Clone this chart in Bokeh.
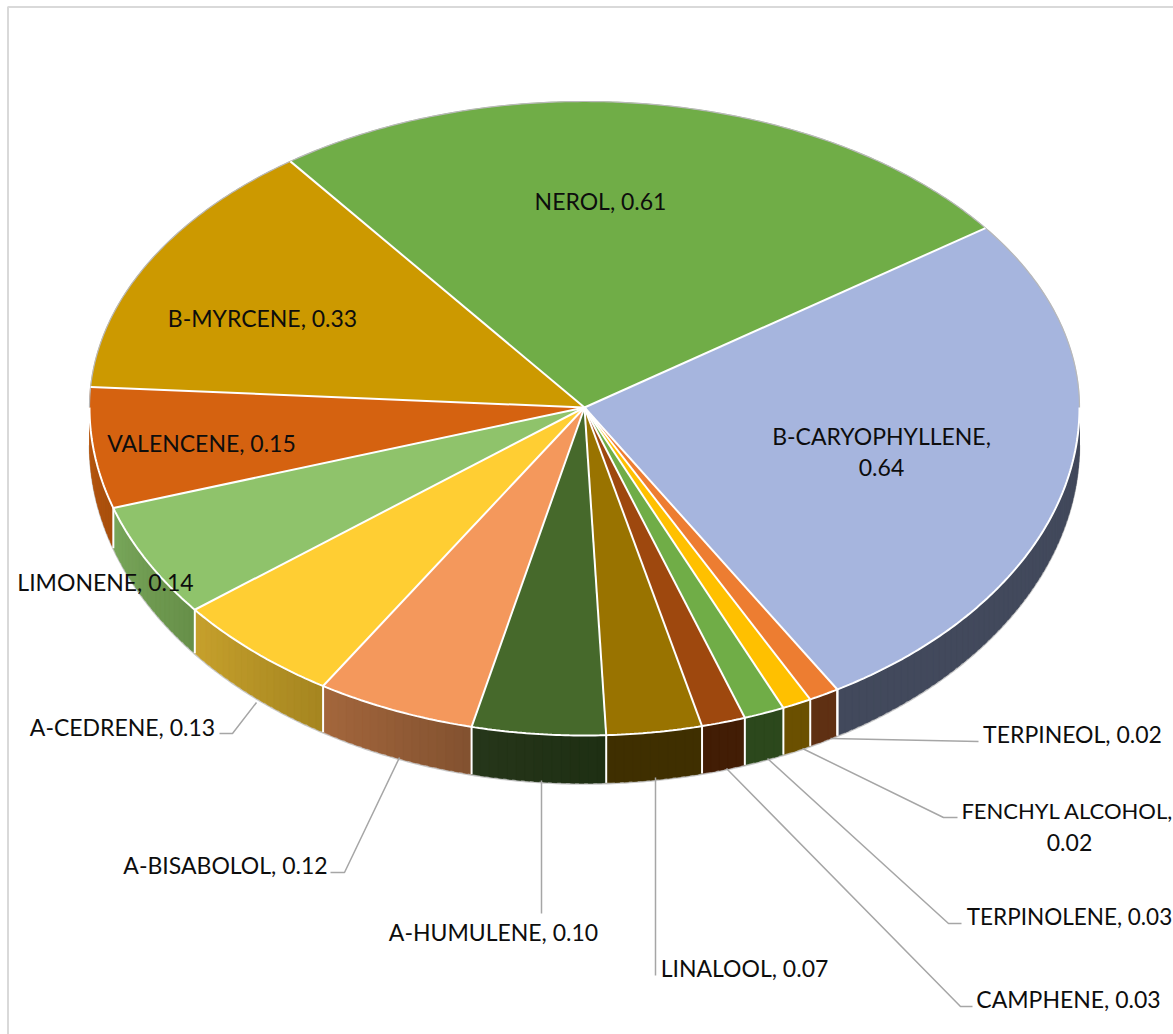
import numpy as np
from bokeh.plotting import figure
from bokeh.models import Range1d
from bokeh.core.properties import value
from bokeh.embed import file_html
from bokeh.resources import INLINE

names = ["B-CARYOPHYLLENE", "NEROL", "B-MYRCENE", "VALENCENE", "LIMONENE", "A-CEDRENE", "A-BISABOLOL",
         "A-HUMULENE", "LINALOOL", "CAMPHENE", "TERPINOLENE", "FENCHYL ALCOHOL", "TERPINEOL"]
# they round to the printed labels
values = [0.636, 0.6051, 0.332, 0.1451, 0.1351, 0.134, 0.1249, 0.1049, 0.075, 0.0345, 0.032, 0.023, 0.024]
top_colors = ["#A6B5DE", "#70AD47", "#CC9900", "#D56210", "#8FC36B", "#FFCE33", "#F4985C",
              "#46692B", "#997300", "#9E480E", "#70AD47", "#FFC000", "#ED7D31"]
side_left = ["#42495C", "#70AD47", "#CC9900", "#B85A12", "#78A65A", "#C6A02C", "#A3663C",
             "#26361A", "#3F2F00", "#421D05", "#2C481C", "#6B5000", "#5F3013"]
side_right = ["#42495C", "#70AD47", "#CC9900", "#A84E0C", "#679049", "#A68620", "#835230",
              "#1E2F13", "#3F2F00", "#421D05", "#2C481C", "#6B5000", "#5F3013"]

START_DEG = 35.9
CX, CY, RX, RY_UP, RY_DOWN = 584.0, 407.0, 495.0, 306.0, 328.0
BOT_OFFSET, BOT_EXTRA = 37.0, 10.7


def top_xy(t):
    s = np.sin(t)
    return CX + RX * np.cos(t), CY - np.where(s > 0, RY_UP, RY_DOWN) * s


def bot_xy(t):
    s = np.sin(t)
    return CX + RX * np.cos(t), CY + BOT_OFFSET - np.where(s > 0, RY_UP, RY_DOWN + BOT_EXTRA) * s


def hex2rgb(h):
    return np.array([int(h[i:i + 2], 16) for i in (1, 3, 5)], float)


def mix(a, b, f):
    c = hex2rgb(a) * (1 - f) + hex2rgb(b) * f
    return "#%02x%02x%02x" % tuple(int(round(v)) for v in c)


total = sum(values)
sweeps = np.radians(np.array(values) / total * 360.0)
start0 = np.radians(START_DEG)
bounds = np.concatenate([[start0 - sweeps[0]], start0 - sweeps[0] + np.cumsum(sweeps)])

p = figure(width=1173, height=1034, output_backend="svg", toolbar_location=None,
           x_range=Range1d(0, 1173), y_range=Range1d(1034, 0), min_border=0,
           x_axis_location=None, y_axis_location=None, background_fill_color="white",
           border_fill_color="white", outline_line_color=None)
p.grid.visible = False

# chart frame: only its top and left edges fall inside the page
p.line([7.5, 7.5, 1173], [1034, 6.5, 6.5], line_color="#D9D9D9", line_width=2)

# lower silhouette
lo = np.linspace(np.pi, 2 * np.pi, 360)
bx, by = bot_xy(lo)
p.line(bx, by + 0.8, line_color="#C8C8C8", line_width=1.6)

# side faces, drawn as fine strips for the shading across each face
xs, ys, cols = [], [], []
seams = []
for i in range(len(values)):
    a, b = bounds[i], bounds[i + 1]
    ranges = []
    for k in (0, 2):
        ra, rb = max(a, -np.pi + k * np.pi), min(b, 0 + k * np.pi)
        ranges.append((ra, rb))
    for ra, rb in ranges:
        if rb <= ra:
            continue
        n = max(2, int(np.degrees(rb - ra) / 1.0))
        edges = np.linspace(ra, rb, n + 1)
        for j in range(n):
            f = j / max(1, n - 1)
            e = np.linspace(edges[j], min(edges[j + 1] + 0.01, rb), 4)
            x1, y1 = top_xy(e)
            x2, y2 = bot_xy(e[::-1])
            xs.append(np.concatenate([x1, x2]))
            ys.append(np.concatenate([y1, y2]))
            cols.append(mix(side_left[i], side_right[i], f))
        seams.append(ra)
        seams.append(rb)
p.patches(xs, ys, fill_color=cols, line_color=cols, line_width=0.4)

for s in sorted(set(np.round(seams, 6))):
    if abs(np.sin(s)) < 1e-3:
        continue
    x1, y1 = top_xy(np.array([s]))
    x2, y2 = bot_xy(np.array([s]))
    p.line([x1[0], x2[0]], [y1[0], y2[0]], line_color="white", line_width=2)

# top faces
for i in range(len(values)):
    e = np.linspace(bounds[i], bounds[i + 1], max(4, int(np.degrees(sweeps[i]) * 2)))
    x, y = top_xy(e)
    p.patch(np.concatenate([[CX], x]), np.concatenate([[CY], y]),
            fill_color=top_colors[i], line_color=top_colors[i], line_width=0.5)

# grey rim on the back half, white rim along the front, white radial seams
up = np.linspace(0, np.pi, 360)
ux, uy = top_xy(up)
p.line(ux, uy, line_color="#B8B8B8", line_width=1.2)
ux, uy = top_xy(lo)
p.line(ux, uy, line_color="white", line_width=2)
for b in bounds[:-1]:
    x, y = top_xy(np.array([b]))
    p.line([CX, x[0]], [CY, y[0]], line_color="white", line_width=2)

# leader lines
leaders = [
    ([830, 978], [738, 741]),
    ([802, 943, 957], [748, 817, 817]),
    ([767, 948, 961], [758, 923, 923]),
    ([726, 960, 972], [768, 1006, 1006]),
    ([655, 655], [777, 975]),
    ([541, 541], [780, 913]),
    ([399, 344, 330], [757, 872, 872]),
    ([256, 232, 219], [702, 733, 733]),
]
for lx, ly in leaders:
    p.line(lx, ly, line_color="#A6A6A6", line_width=1.5)

label_pos = {
    "B-CARYOPHYLLENE": (881, 435, 881, 467), "NEROL": (600, 200), "B-MYRCENE": (262, 317),
    "VALENCENE": (201, 442), "LIMONENE": (105, 581), "A-CEDRENE": (122, 726),
    "A-BISABOLOL": (225, 864), "A-HUMULENE": (493, 931), "LINALOOL": (744, 967),
    "CAMPHENE": (1068, 998), "TERPINOLENE": (1069, 916),
    "FENCHYL ALCOHOL": (1067, 810, 1069, 842), "TERPINEOL": (1072, 733),
}
label_size = {"FENCHYL ALCOHOL": "22px", "TERPINOLENE": "22.5px"}
tx_, ty_, tt_, ts_ = [], [], [], []
for n, v in zip(names, values):
    pos = label_pos[n]
    size = label_size.get(n, "23px")
    if len(pos) == 2:
        tx_.append(pos[0]); ty_.append(pos[1]); tt_.append(f"{n}, {v:.2f}"); ts_.append(size)
    else:
        tx_ += [pos[0], pos[2]]; ty_ += [pos[1], pos[3]]; tt_ += [f"{n},", f"{v:.2f}"]; ts_ += [size, "23px"]
p.text(tx_, ty_, text=tt_, text_font=value("Lato"), text_font_size=ts_, text_color="#0D0D0D",
       text_align="center", text_baseline="middle")

open("out.html", "w").write(file_html(p, INLINE))
